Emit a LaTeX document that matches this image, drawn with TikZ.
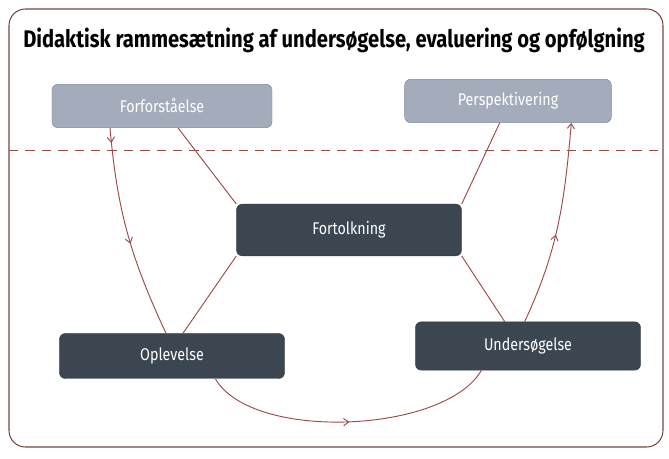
\documentclass[tikz,border=0pt]{standalone}
\usepackage{fontspec}
\setmainfont{Fira Sans}[FakeStretch=0.84]
\usetikzlibrary{arrows.meta,decorations.markings}
\definecolor{lightbox}{HTML}{A4ACBB}
\definecolor{darkbox}{HTML}{3B4651}
\definecolor{linkred}{HTML}{9C4A48}
\definecolor{framered}{HTML}{7A4442}

\begin{document}
\begin{tikzpicture}[
    x=0.03cm, y=0.03cm,
    phase/.style={rectangle, rounded corners=5pt, minimum width=6.6cm, minimum height=1.3cm, text centered, draw=lightbox!80!black, fill=lightbox, text=white, font=\fontsize{14.5}{17}\selectfont},
    core/.style={rectangle, rounded corners=5pt, minimum width=6.75cm, minimum height=1.35cm, text centered, draw=darkbox!80!black, fill=darkbox, text=white, font=\fontsize{14.5}{17}\selectfont},
    link/.style={linkred, thick},
    flow/.style={linkred, thick, >={Straight Barb[length=1.5mm,width=2.2mm]}},
    arrowat/.style={postaction={decorate, decoration={markings, mark=at position #1 with {\arrow{>}}}}}
]
\useasboundingbox (0,0) rectangle (669,459);

% Frame and title
\draw[framered, line width=0.9pt, rounded corners=14pt] (9,12) rectangle (663,450);
\node[font=\fontsize{20.5}{24}\selectfont\bfseries] (title) at (334,419) {Didaktisk rammesætning af undersøgelse, evaluering og opfølgning};

% Dashed split line
\coordinate (dashL) at (9,309);
\coordinate (dashR) at (663,309);
\draw[linkred, thick, dash pattern=on 8pt off 6pt] (dashL) -- (dashR);

% Phases
\node[phase] (forf) at (162,353) {Forforståelse};
\node[phase, minimum width=6.2cm] (persp) at (508,358) {Perspektivering};
\node[core, minimum height=1.55cm] (fort) at (349,229) {Fortolkning};
\node[core] (oplev) at (172,103) {Oplevelse};
\node[core, minimum height=1.45cm] (under) at (528,113) {Undersøgelse};

% Links to the centre
\draw[link] ([xshift=0.48cm]forf.south) -- (fort.north west);
\draw[link] ([xshift=-0.25cm]persp.south) -- (fort.north east);
\draw[link] (fort.south west) -- ([xshift=0.33cm]oplev.north);
\draw[link] (fort.south east) -- ([xshift=-0.7cm]under.north);

% Cycle
\draw[flow, arrowat=0.07, arrowat=0.55] ([xshift=-1.56cm]forf.south) to[out=-85, in=115] ([xshift=-0.18cm]oplev.north);
\draw[flow, arrowat=0.5] ([xshift=1.3cm]oplev.south) to[out=-60, in=-120, looseness=0.7] ([xshift=-1.4cm]under.south);
\draw[flow, ->, arrowat=0.45] ([xshift=-0.1cm]under.north) to[out=65, in=-95] ([xshift=1.9cm]persp.south);

\end{tikzpicture}
\end{document}
